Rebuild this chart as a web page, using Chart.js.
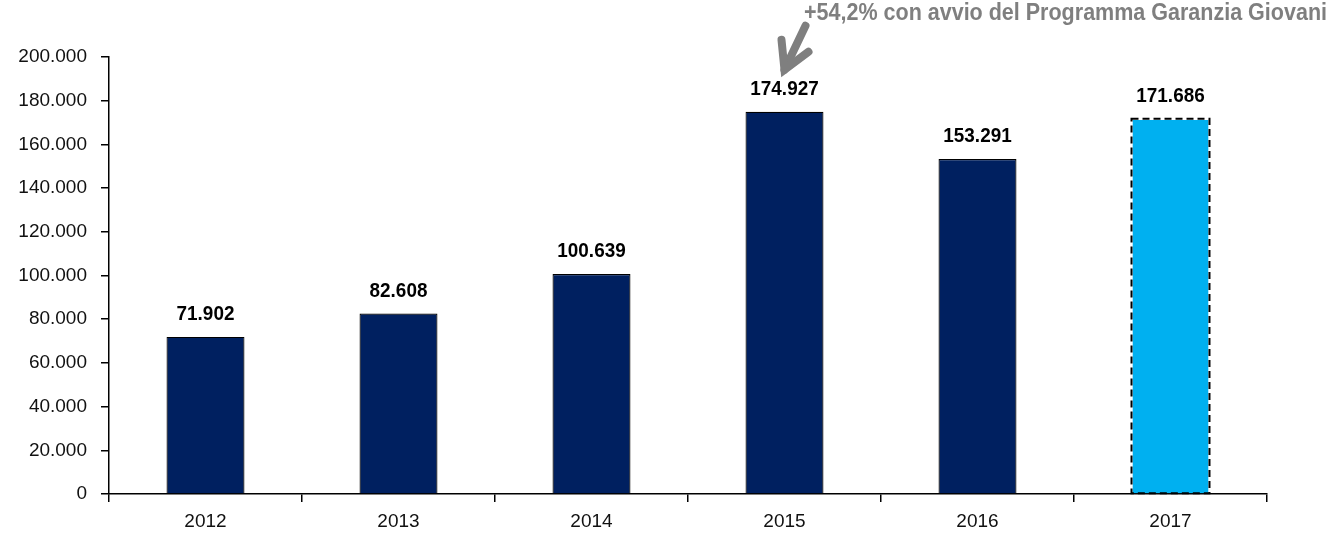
<!DOCTYPE html>
<html>
<head>
<meta charset="utf-8">
<script src="https://cdn.jsdelivr.net/npm/chart.js@4/dist/chart.umd.min.js"></script>
<style>
  html, body { margin: 0; padding: 0; background: #fff; }
  #wrap { width: 1335px; height: 533px; position: relative; }
</style>
</head>
<body>
<div id="wrap"><canvas id="grafico"></canvas></div>
<script>
const anni = ['2012', '2013', '2014', '2015', '2016', '2017'];
const valori = [71902, 82608, 100639, 174927, 153291, 171686];
const coloriBarre = ['#002060', '#002060', '#002060', '#002060', '#002060', '#00B0F0'];
const nota = '+54,2% con avvio del Programma Garanzia Giovani';
const indiceNota = 3; // la freccia punta al 2015

const formatta = v => String(v).replace(/\B(?=(\d{3})+(?!\d))/g, '.');

// testo un po' stretto, come nell'originale
function testoStretto(ctx, txt, x, y, sx) {
  ctx.save();
  ctx.translate(x, y);
  ctx.scale(sx, 1);
  ctx.fillText(txt, 0, 0);
  ctx.restore();
}

// etichette sopra le barre
const etichette = {
  id: 'etichette',
  afterDatasetsDraw(chart) {
    const ctx = chart.ctx;
    const meta = chart.getDatasetMeta(0);
    ctx.save();
    ctx.font = 'bold 21px "Liberation Sans", Arial, sans-serif';
    ctx.fillStyle = '#000';
    ctx.textAlign = 'center';
    ctx.textBaseline = 'alphabetic';
    meta.data.forEach((bar, i) => {
      testoStretto(ctx, formatta(valori[i]), bar.x, bar.y - 17, 0.9);
    });
    ctx.restore();
  }
};

// bordo tratteggiato per il 2017
const tratteggio = {
  id: 'tratteggio',
  afterDatasetsDraw(chart) {
    const ctx = chart.ctx;
    const bar = chart.getDatasetMeta(0).data[5];
    const w = bar.width;
    ctx.save();
    ctx.strokeStyle = '#000';
    ctx.lineWidth = 2;
    ctx.setLineDash([7, 4]);
    ctx.strokeRect(bar.x - w / 2, bar.y, w, bar.base - bar.y);
    ctx.restore();
  }
};

// nota con freccia
const freccia = {
  id: 'freccia',
  afterDraw(chart) {
    const ctx = chart.ctx;
    const bar = chart.getDatasetMeta(0).data[indiceNota];
    const tipX = bar.x, tipY = bar.y - 42;
    ctx.save();
    ctx.strokeStyle = '#7f7f7f';
    ctx.lineWidth = 8;
    ctx.lineCap = 'round';
    ctx.lineJoin = 'miter';
    ctx.beginPath();
    ctx.moveTo(tipX + 21, tipY - 44);
    ctx.lineTo(tipX, tipY);
    ctx.stroke();
    ctx.beginPath();
    ctx.moveTo(tipX - 3, tipY - 30);
    ctx.lineTo(tipX, tipY);
    ctx.lineTo(tipX + 24, tipY - 18);
    ctx.stroke();
    ctx.font = 'bold 23px "Liberation Sans", Arial, sans-serif';
    ctx.fillStyle = '#7f7f7f';
    ctx.textAlign = 'left';
    ctx.textBaseline = 'middle';
    const larg = ctx.measureText(nota).width;
    testoStretto(ctx, nota, 804, 14, 523 / larg);
    ctx.restore();
  }
};

new Chart(document.getElementById('grafico'), {
  type: 'bar',
  data: {
    labels: anni,
    datasets: [{
      data: valori,
      backgroundColor: coloriBarre,
      borderColor: ['#000', '#000', '#000', '#000', '#000', 'rgba(0,0,0,0)'],
      borderWidth: 1.2,
      barPercentage: 0.404,
      categoryPercentage: 1
    }]
  },
  options: {
    responsive: true,
    maintainAspectRatio: false,
    animation: false,
    layout: { padding: { top: 57, right: 68, left: 0, bottom: 0 } },
    plugins: { legend: { display: false }, tooltip: { enabled: false } },
    scales: {
      x: {
        afterFit(scale) { scale.height = 39; },
        border: { color: '#000', width: 1.5 },
        grid: { drawOnChartArea: false, color: '#000', tickLength: 8, lineWidth: 1.5, offset: true },
        ticks: {
          color: '#111',
          padding: 8,
          font: { family: '"Liberation Sans", Arial, sans-serif', size: 19 }
        }
      },
      y: {
        min: 0,
        max: 200000,
        afterFit(scale) { scale.width = 109; },
        border: { color: '#000', width: 1.5 },
        grid: { drawOnChartArea: false, color: '#000', tickLength: 8, lineWidth: 1.5 },
        ticks: {
          stepSize: 20000,
          color: '#111',
          padding: 14,
          font: { family: '"Liberation Sans", Arial, sans-serif', size: 19 },
          callback: v => formatta(v)
        }
      }
    }
  },
  plugins: [etichette, tratteggio, freccia]
});
</script>
</body>
</html>
